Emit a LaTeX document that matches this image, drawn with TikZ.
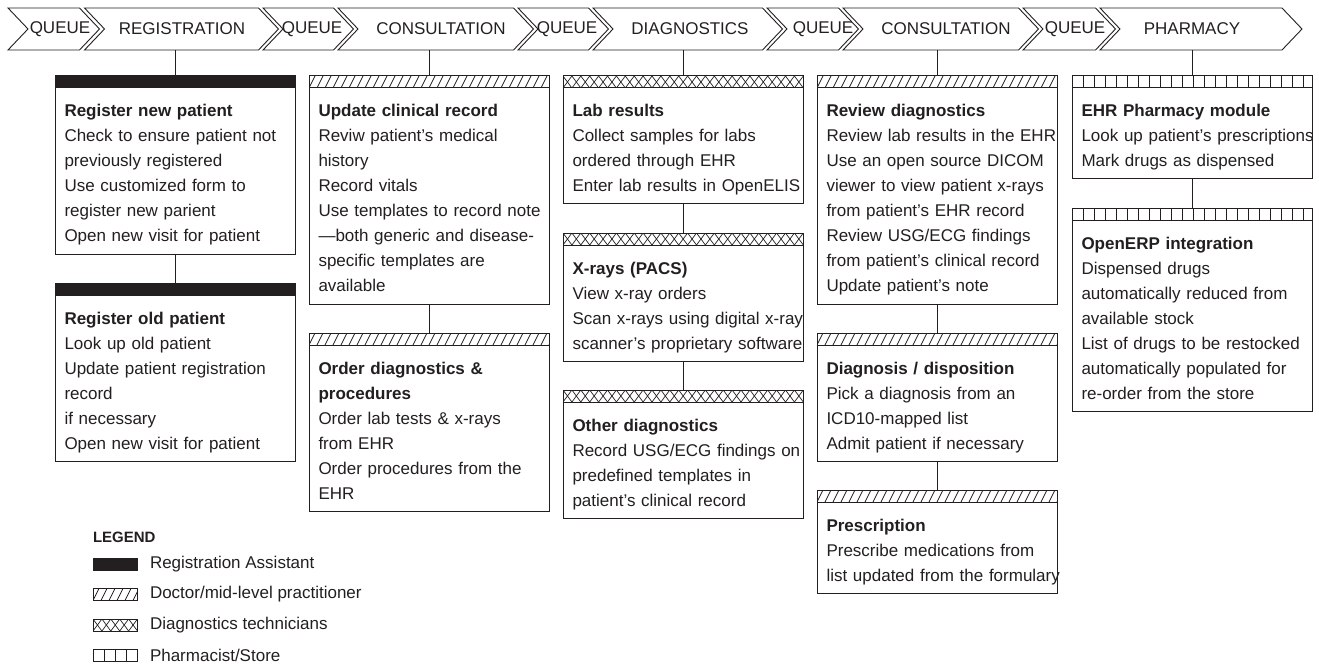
\documentclass[tikz,border=0pt]{standalone}
\usepackage{fontspec}
\setmainfont{Liberation Sans}
\usetikzlibrary{positioning}
\definecolor{ink}{HTML}{231F20}
\tikzset{
  chev/.style={draw=ink, line width=0.9pt, line join=miter},
  stage/.style={font=\fontsize{17}{20}\selectfont, text=ink, inner sep=0pt, outer sep=0pt, minimum height=42pt},
  bar/.style={draw=ink, line width=1pt, fill=white, inner sep=0pt, outer sep=0pt,
    minimum width=240pt, minimum height=12pt, anchor=north},
  clerk/.style={bar, fill=ink},
  doctor/.style={bar, path picture={
      \foreach \k in {-2,...,31}
        \draw[ink, line width=0.8pt] ([xshift=\k*8pt]path picture bounding box.south west) -- ++(6pt,12pt);
    }},
  tech/.style={bar, path picture={
      \foreach \k in {-1,...,28}{
        \draw[ink, line width=0.7pt] ([xshift=\k*8.9pt]path picture bounding box.south west) -- ++(8.9pt,12pt);
        \draw[ink, line width=0.7pt] ([xshift=\k*8.9pt]path picture bounding box.north west) -- ++(8.9pt,-12pt);
      }
    }},
  store/.style={bar, path picture={
      \foreach \k in {1,...,21}
        \draw[ink, line width=0.8pt] ([xshift=\k*11pt]path picture bounding box.south west) -- ++(0pt,12pt);
    }},
  card/.style={draw=ink, line width=1pt, fill=white, inner xsep=9.5pt, inner ysep=0pt, outer sep=0pt,
    anchor=north, text width=221pt, align=left,
    execute at begin node={\rule{0pt}{29pt}}, execute at end node={\rule[-12pt]{0pt}{12pt}},
    font=\fontsize{17}{25}\selectfont, text=ink},
  link/.style={draw=ink, line width=1pt},
  legtext/.style={font=\fontsize{17}{20}\selectfont, text=ink, inner sep=0pt, outer sep=0pt, anchor=west}
}

\begin{document}
\begin{tikzpicture}[x=1pt, y=-1pt, node distance=29pt]
\useasboundingbox (0,0) rectangle (1319,671);

% process bar
\foreach \a/\b/\c/\txt/\nm in {8/79.5/60/QUEUE/stgqa, 84.5/258.5/182/REGISTRATION/stgreg,
    263/333.5/312/QUEUE/stgqb, 338/513.5/441/CONSULTATION/stgcon,
    518/588.5/567/QUEUE/stgqc, 593/762.5/690/DIAGNOSTICS/stgdiag,
    767/838.5/823/QUEUE/stgqd, 843/1018.5/946/CONSULTATION/stgrev,
    1023/1095.5/1075/QUEUE/stgqe, 1100/1282/1192/PHARMACY/stgpharm}{
  \draw[chev] (\a,8) -- (\b,8) -- (\b+20,29) -- (\b,50) -- (\a,50) -- (\a+20,29) -- cycle;
  \node[stage] (\nm) at (\c,29) {\txt};
}

% registration
\node[clerk] (regnewh) at (175,76) {};
\node[card, below=0pt of regnewh] (regnew) {
  \textbf{Register new patient}\\
  Check to ensure patient not\\
  previously registered\\
  Use customized form to\\
  register new parient\\
  Open new visit for patient
};
\node[clerk, below=of regnew] (regoldh) {};
\node[card, below=0pt of regoldh] (regold) {
  \textbf{Register old patient}\\
  Look up old patient\\
  Update patient registration\\
  record\\
  if necessary\\
  Open new visit for patient
};

% consultation
\node[doctor] (clinrech) at (429,76) {};
\node[card, below=0pt of clinrech] (clinrec) {
  \textbf{Update clinical record}\\
  Reviw patient's medical\\
  history\\
  Record vitals\\
  \mbox{Use templates to record note}\\
  —both generic and disease-\\
  specific templates are\\
  available
};
\node[doctor, below=of clinrec] (orderdxh) {};
\node[card, below=0pt of orderdxh] (orderdx) {
  \textbf{Order diagnostics \&}\\
  \textbf{procedures}\\
  Order lab tests \& x-rays\\
  from EHR\\
  Order procedures from the\\
  EHR
};

% diagnostics
\node[tech] (labresh) at (683,76) {};
\node[card, below=0pt of labresh] (labres) {
  \textbf{Lab results}\\
  Collect samples for labs\\
  ordered through EHR\\
  \mbox{Enter lab results in OpenELIS}
};
\node[tech, below=of labres] (xraysh) {};
\node[card, below=0pt of xraysh] (xrays) {
  \textbf{X-rays (PACS)}\\
  View x-ray orders\\
  \mbox{Scan x-rays using digital x-ray}\\
  \mbox{scanner's proprietary software}
};
\node[tech, below=of xrays] (otherdxh) {};
\node[card, below=0pt of otherdxh] (otherdx) {
  \textbf{Other diagnostics}\\
  \mbox{Record USG/ECG findings on}\\
  predefined templates in\\
  patient's clinical record
};

% second consultation
\node[doctor] (reviewdxh) at (937,76) {};
\node[card, below=0pt of reviewdxh] (reviewdx) {
  \textbf{Review diagnostics}\\
  \mbox{Review lab results in the EHR}\\
  Use an open source DICOM\\
  viewer to view patient x-rays\\
  from patient's EHR record\\
  Review USG/ECG findings\\
  from patient's clinical record\\
  Update patient's note
};
\node[doctor, below=of reviewdx] (dispoh) {};
\node[card, below=0pt of dispoh] (dispo) {
  \textbf{Diagnosis / disposition}\\
  Pick a diagnosis from an\\
  ICD10-mapped list\\
  Admit patient if necessary
};
\node[doctor, below=of dispo] (prescrh) {};
\node[card, below=0pt of prescrh] (prescr) {
  \textbf{Prescription}\\
  Prescribe medications from\\
  \mbox{list updated from the formulary}
};

% pharmacy
\node[store] (ehrpharmh) at (1192,76) {};
\node[card, below=0pt of ehrpharmh] (ehrpharm) {
  \textbf{EHR Pharmacy module}\\
  \mbox{Look up patient's prescriptions}\\
  Mark drugs as dispensed
};
\node[store, below=of ehrpharm] (openerph) {};
\node[card, below=0pt of openerph] (openerp) {
  \textbf{OpenERP integration}\\
  Dispensed drugs\\
  automatically reduced from\\
  available stock\\
  List of drugs to be restocked\\
  automatically populated for\\
  re-order from the store
};

% connectors
\draw[link] (regnewh.north) -- (regnewh.north |- stgreg.south);
\draw[link] (regnew.south) -- (regoldh.north);
\draw[link] (clinrech.north) -- (clinrech.north |- stgcon.south);
\draw[link] (clinrec.south) -- (orderdxh.north);
\draw[link] (labresh.north) -- (labresh.north |- stgdiag.south);
\draw[link] (labres.south) -- (xraysh.north);
\draw[link] (xrays.south) -- (otherdxh.north);
\draw[link] (reviewdxh.north) -- (reviewdxh.north |- stgrev.south);
\draw[link] (reviewdx.south) -- (dispoh.north);
\draw[link] (dispo.south) -- (prescrh.north);
\draw[link] (ehrpharmh.north) -- (ehrpharmh.north |- stgpharm.south);
\draw[link] (ehrpharm.south) -- (openerph.north);

% legend
\node[legtext, font=\bfseries\fontsize{15}{18}\selectfont] (legtitle) at (93,537) {LEGEND};
\node[clerk, minimum width=44pt, anchor=west] (legclerk) at (93,564) {};
\node[legtext, right=13pt of legclerk] (legclerktxt) {Registration Assistant};
\node[doctor, minimum width=44pt, anchor=west] (legdoctor) at (93,594.5) {};
\node[legtext, right=13pt of legdoctor] (legdoctortxt) {Doctor/mid-level practitioner};
\node[tech, minimum width=44pt, anchor=west] (legtech) at (93,625) {};
\node[legtext, right=13pt of legtech] (legtechtxt) {Diagnostics technicians};
\node[store, minimum width=44pt, anchor=west] (legstore) at (93,655.5) {};
\node[legtext, right=13pt of legstore] (legstoretxt) {Pharmacist/Store};

\end{tikzpicture}
\end{document}
